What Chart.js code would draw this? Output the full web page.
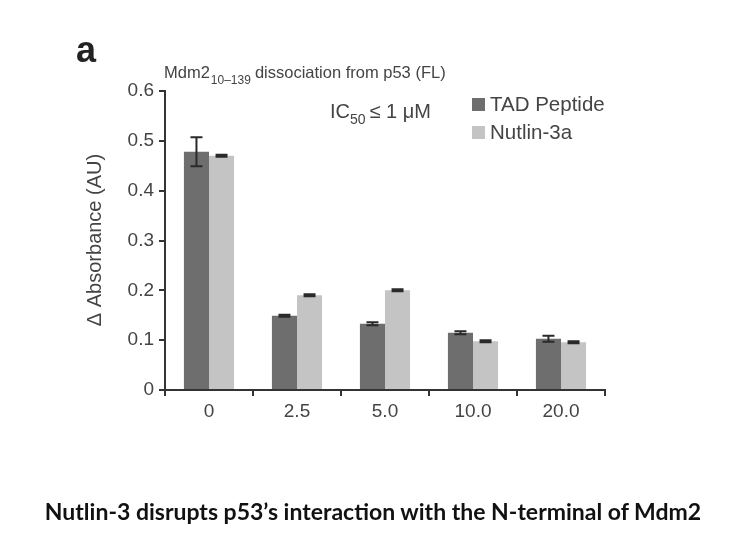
<!DOCTYPE html>
<html>
<head>
<meta charset="utf-8">
<script src="https://cdn.jsdelivr.net/npm/chart.js@4"></script>
<style>
  body { margin: 0; background: #fff; }
  #wrap { position: relative; width: 746px; height: 560px; }
  #caption {
    position: absolute; left: 0; top: 497px; width: 746px;
    text-align: center; font: bold 23px Lato, "Open Sans", sans-serif; color: #111;
  }
</style>
</head>
<body>
<div id="wrap">
  <canvas id="chart" width="746" height="560"></canvas>
  <div id="caption">Nutlin-3 disrupts p53’s interaction with the N-terminal of Mdm2</div>
</div>
<script>
// data
const doses = ['0', '2.5', '5.0', '10.0', '20.0'];
const tadValues = [0.478, 0.149, 0.133, 0.115, 0.103];
const tadErrors = [0.029, 0.002, 0.003, 0.003, 0.006];
const nutlinValues = [0.470, 0.190, 0.200, 0.098, 0.096];
const nutlinErrors = [0.002, 0.002, 0.002, 0.002, 0.002];
const yTicks = [0, 0.1, 0.2, 0.3, 0.4, 0.5, 0.6];

const FONT = '"Liberation Sans", Arial, sans-serif';
const TEXT = '#444';

/* ===========================
   ERROR BARS
=========================== */

const errorBars = {
  id: 'errorBars',
  afterDatasetsDraw(chart) {
    const ctx = chart.ctx;
    const y = chart.scales.y;
    ctx.save();
    ctx.strokeStyle = '#2a2a2a';
    ctx.lineWidth = 2;
    chart.data.datasets.forEach((ds, i) => {
      const meta = chart.getDatasetMeta(i);
      meta.data.forEach((bar, j) => {
        const v = ds.data[j];
        const e = ds.errors[j];
        const top = y.getPixelForValue(v + e);
        const bot = y.getPixelForValue(v - e);
        const cap = 6;
        ctx.beginPath();
        ctx.moveTo(bar.x, top); ctx.lineTo(bar.x, bot);
        ctx.moveTo(bar.x - cap, top); ctx.lineTo(bar.x + cap, top);
        ctx.moveTo(bar.x - cap, bot); ctx.lineTo(bar.x + cap, bot);
        ctx.stroke();
      });
    });
    ctx.restore();
  }
};

/* ===========================
   TEXT + LEGEND
=========================== */

const labels = {
  id: 'labels',
  afterDraw(chart) {
    const ctx = chart.ctx;
    ctx.save();
    ctx.fillStyle = '#222';
    ctx.textBaseline = 'alphabetic';
    ctx.textAlign = 'left';

    // panel letter
    ctx.font = 'bold 36px ' + FONT;
    ctx.fillText('a', 76, 62);

    // title with subscript
    ctx.fillStyle = TEXT;
    let x = 164;
    ctx.font = '16.5px ' + FONT;
    ctx.fillText('Mdm2', x, 78);
    x += ctx.measureText('Mdm2').width + 1;
    ctx.font = '12px ' + FONT;
    ctx.fillText('10–139', x, 84);
    x += ctx.measureText('10–139').width + 4;
    ctx.font = '16.5px ' + FONT;
    ctx.fillText('dissociation from p53 (FL)', x, 78);

    // IC50
    x = 330;
    ctx.font = '20px ' + FONT;
    ctx.fillText('IC', x, 118);
    x += ctx.measureText('IC').width;
    ctx.font = '14px ' + FONT;
    ctx.fillText('50', x, 124);
    x += ctx.measureText('50').width + 4;
    ctx.font = '20px ' + FONT;
    ctx.fillText('≤ 1 μM', x, 118);

    // legend
    chart.data.datasets.forEach((ds, i) => {
      const ly = 98 + i * 28;
      ctx.fillStyle = ds.backgroundColor;
      ctx.fillRect(472, ly, 13, 13);
      ctx.fillStyle = TEXT;
      ctx.font = '20.5px ' + FONT;
      ctx.fillText(ds.label, 490, ly + 13);
    });

    // y axis title
    ctx.translate(101, 240);
    ctx.rotate(-Math.PI / 2);
    ctx.textAlign = 'center';
    ctx.font = '20px ' + FONT;
    ctx.fillText('Δ Absorbance (AU)', 0, 0);
    ctx.restore();
  }
};

/* ===========================
   CHART
=========================== */

new Chart(document.getElementById('chart'), {
  type: 'bar',
  data: {
    labels: doses,
    datasets: [
      {
        label: 'TAD Peptide',
        data: tadValues,
        errors: tadErrors,
        backgroundColor: '#6e6e6e',
        categoryPercentage: 0.57,
        barPercentage: 1.0
      },
      {
        label: 'Nutlin-3a',
        data: nutlinValues,
        errors: nutlinErrors,
        backgroundColor: '#c4c4c4',
        categoryPercentage: 0.57,
        barPercentage: 1.0
      }
    ]
  },
  options: {
    responsive: false,
    animation: false,
    devicePixelRatio: 1,
    layout: { padding: { left: 75, right: 141, top: 91, bottom: 130 } },
    plugins: {
      legend: { display: false },
      tooltip: { enabled: false }
    },
    scales: {
      x: {
        afterFit: s => { s.height = 40; },
        border: { display: true, color: '#333', width: 2 },
        grid: {
          offset: true, drawOnChartArea: false, drawTicks: true,
          tickLength: 6, color: '#333', lineWidth: 2
        },
        ticks: { color: TEXT, font: { family: FONT, size: 19 }, padding: 4 }
      },
      y: {
        min: 0,
        max: 0.6,
        afterFit: s => { s.width = 90; },
        afterBuildTicks: s => { s.ticks = yTicks.map(v => ({ value: v })); },
        border: { display: true, color: '#333', width: 2 },
        grid: {
          drawOnChartArea: false, drawTicks: true,
          tickLength: 6, color: '#333', lineWidth: 2
        },
        ticks: {
          color: TEXT, font: { family: FONT, size: 19 }, padding: 5,
          callback: v => (v === 0 ? '0' : v.toFixed(1))
        }
      }
    }
  },
  plugins: [errorBars, labels]
});
</script>
</body>
</html>
